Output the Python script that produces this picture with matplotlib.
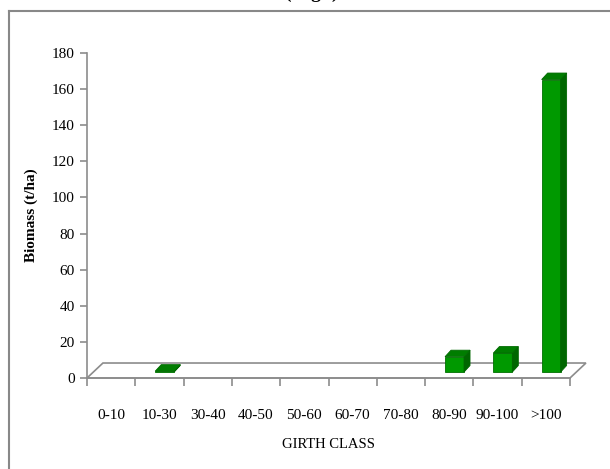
import matplotlib
matplotlib.use('Agg')
import matplotlib.pyplot as plt
from matplotlib.patches import Polygon
from matplotlib.lines import Line2D

# girth classes and biomass (t/ha)
classes = ['0-10', '10-30', '30-40', '40-50', '50-60', '60-70', '70-80', '80-90', '90-100', '>100']
biomass = [0, 0.5, 0, 0, 0, 0, 0, 8.5, 10.5, 162]
yticks = [0, 20, 40, 60, 80, 100, 120, 140, 160, 180]

plt.rcParams['font.family'] = ['Liberation Serif', 'DejaVu Serif']

fig = plt.figure(figsize=(6.1, 4.69), dpi=100)
ax = fig.add_axes([87 / 610, 91 / 469, 483 / 610, 325 / 469])
ax.set_xlim(0, len(classes))
ax.set_ylim(0, 180)

axis_col = '#8c8c8c'
for s in ['top', 'right']:
    ax.spines[s].set_visible(False)
for s in ['left', 'bottom']:
    ax.spines[s].set_color(axis_col)
    ax.spines[s].set_linewidth(1.2)

# floor of the 3d chart
fdx, fdy = 0.33, 8.3
n = len(classes)
floor = Polygon([(0, 0), (n, 0), (n + fdx, fdy), (fdx, fdy)], closed=True,
                facecolor='none', edgecolor=axis_col, lw=1.2, clip_on=False, zorder=2)
ax.add_patch(floor)

# 3d columns
x_off, w = 0.413, 0.393
bdx, bdy = 0.124, 3.6
base = 3.3
front_c, side_c, top_c = '#009900', '#006600', '#007d00'
for i, v in enumerate(biomass):
    if v <= 0:
        continue
    x0 = i + x_off
    top = base + v
    ax.add_patch(Polygon([(x0, base), (x0 + w, base), (x0 + w, top), (x0, top)],
                         facecolor=front_c, edgecolor='#007000', lw=0.6, clip_on=False, zorder=3))
    ax.add_patch(Polygon([(x0 + w, base), (x0 + w + bdx, base + bdy), (x0 + w + bdx, top + bdy), (x0 + w, top)],
                         facecolor=side_c, edgecolor=side_c, lw=0.6, clip_on=False, zorder=3))
    ax.add_patch(Polygon([(x0, top), (x0 + w, top), (x0 + w + bdx, top + bdy), (x0 + bdx, top + bdy)],
                         facecolor=top_c, edgecolor='#006a00', lw=0.6, clip_on=False, zorder=3))

ax.set_yticks(yticks)
ax.set_yticklabels([str(t) for t in yticks], fontsize=11)
ax.set_xticks(range(n + 1))
ax.set_xticklabels([])
ax.set_xticks([i + 0.5 for i in range(n)], minor=True)
ax.set_xticklabels(classes, minor=True, fontsize=11)
ax.tick_params(axis='x', which='minor', length=0, pad=22)
ax.tick_params(axis='x', which='major', length=6, color=axis_col, width=1.2)
ax.tick_params(axis='y', length=5, color=axis_col, width=1.2, pad=4)

ax.set_ylabel('Biomass (t/ha)', fontsize=11, fontweight='bold', labelpad=10)
ax.set_xlabel('GIRTH CLASS', fontsize=10.5, labelpad=12)

# outer frame (cut off at the right and bottom)
fig.add_artist(Line2D([9 / 610, 9 / 610], [0, 1 - 11 / 469], transform=fig.transFigure,
                      color='#888888', lw=1.5))
fig.add_artist(Line2D([9 / 610, 1], [1 - 11 / 469, 1 - 11 / 469], transform=fig.transFigure,
                      color='#888888', lw=1.5))
fig.text(0.51, 1.004, '(High)', ha='center', va='baseline', fontsize=14, fontweight='bold')

fig.savefig('out.png', dpi=100)
